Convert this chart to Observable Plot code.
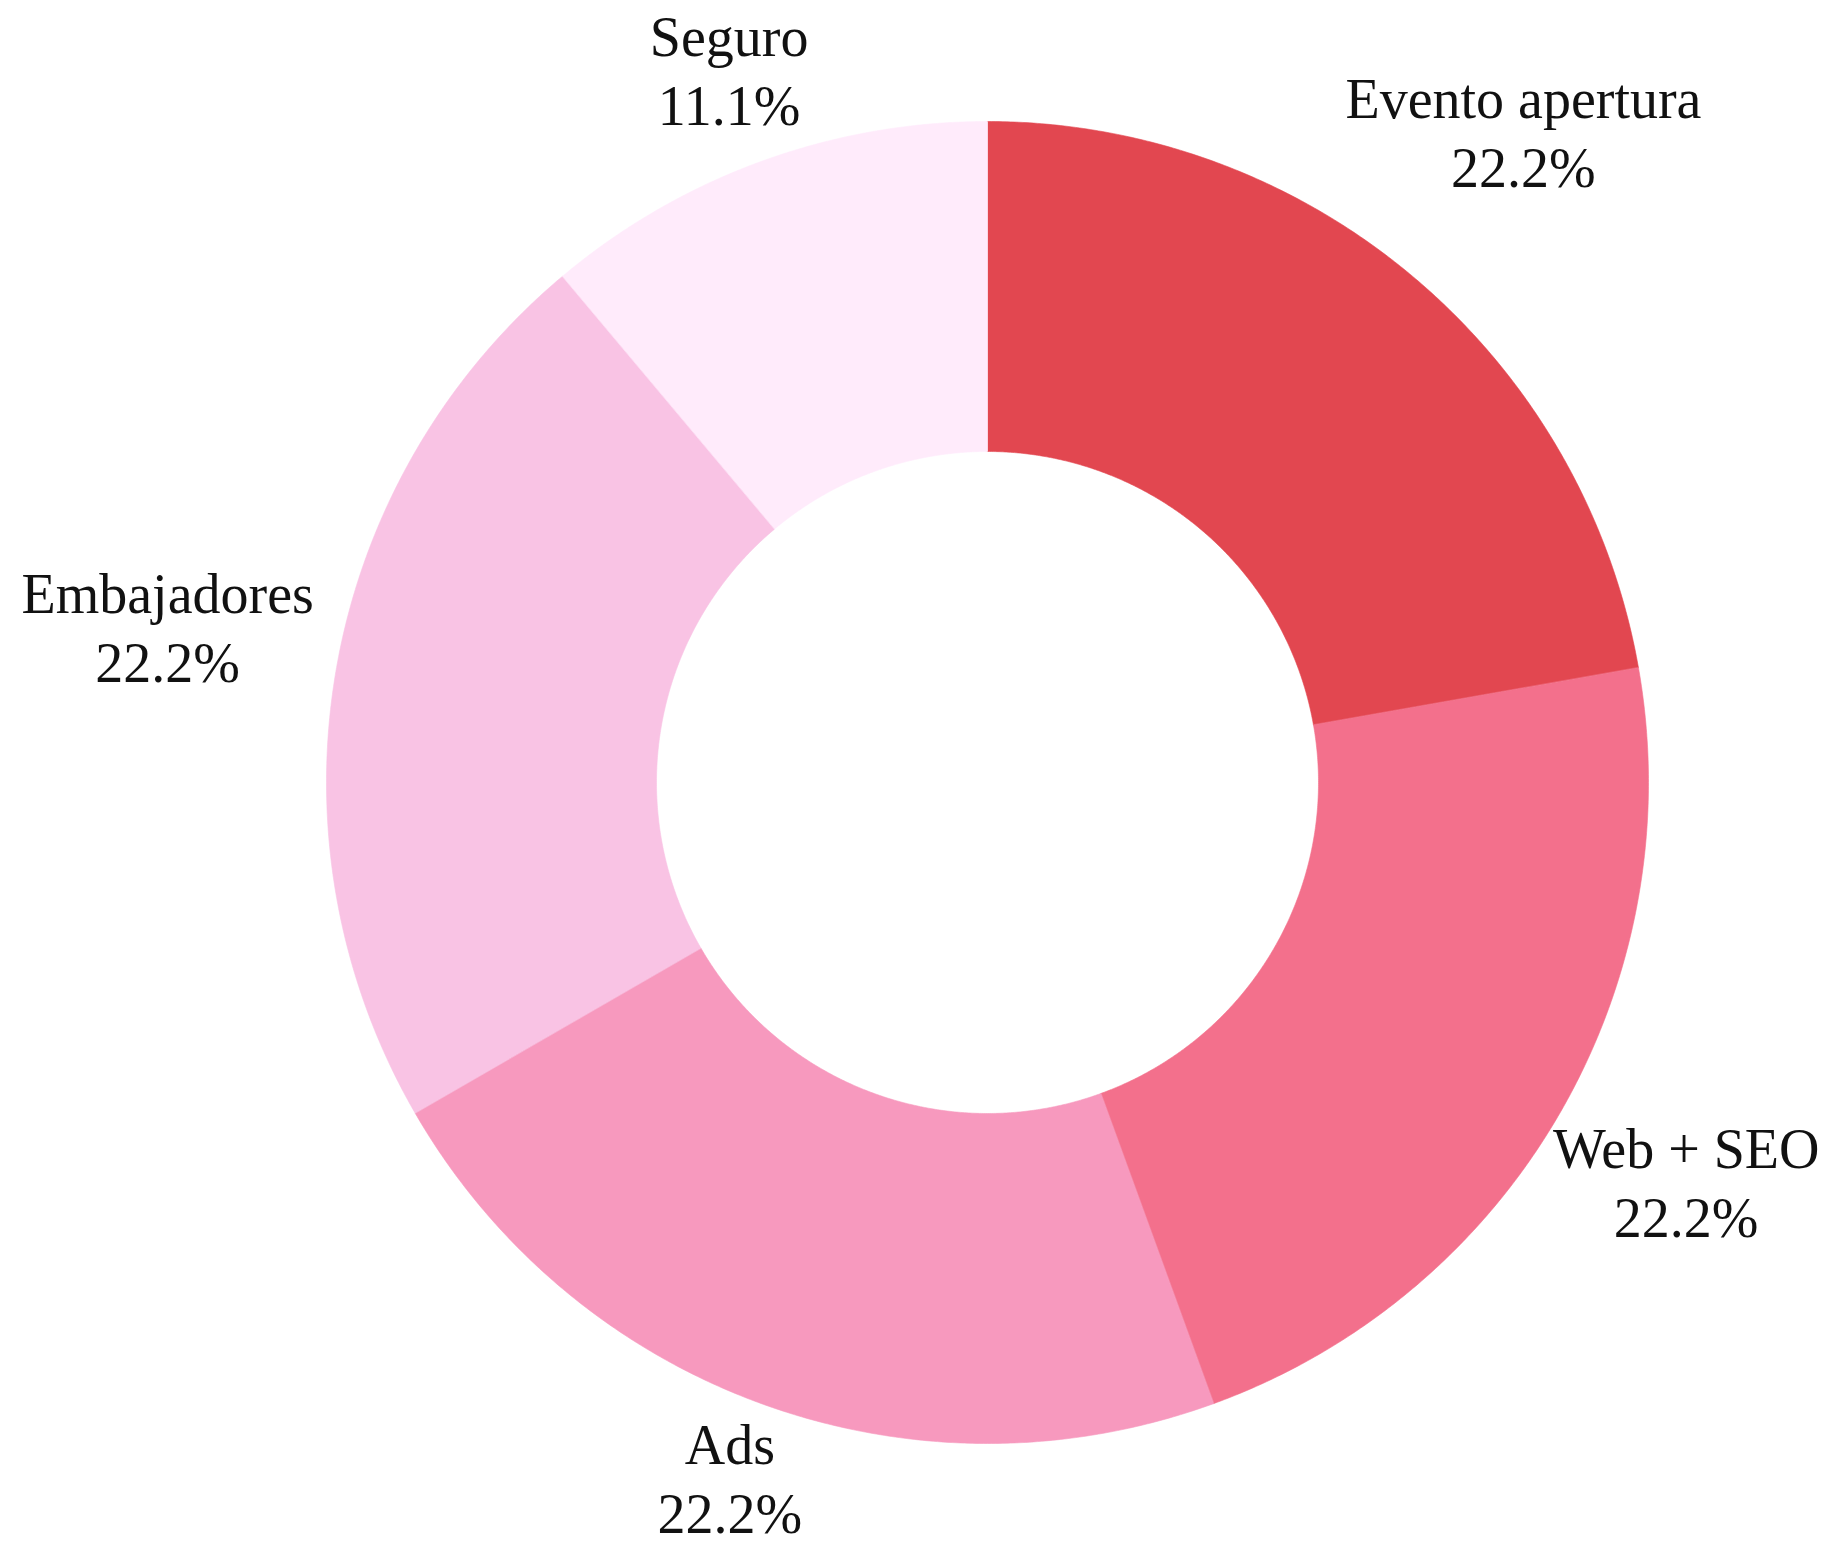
<!DOCTYPE html>
<html>
<head>
<meta charset="utf-8">
<script src="https://cdn.jsdelivr.net/npm/d3@7"></script>
<script src="https://cdn.jsdelivr.net/npm/@observablehq/plot@0.6"></script>
<style>
  html, body { margin: 0; padding: 0; background: #ffffff; }
  #chart svg { display: block; }
</style>
</head>
<body>
<div id="chart"></div>
<script>
// ---- data ----
const categories = ["Evento apertura", "Web + SEO", "Ads", "Embajadores", "Seguro"];
const values = [22.2, 22.2, 22.2, 22.2, 11.1];
const valueLabels = ["22.2%", "22.2%", "22.2%", "22.2%", "11.1%"];
const palette = ["#e24750", "#f3708c", "#f799be", "#f9c3e4", "#ffebfb"];

// ---- geometry ----
const W = 1821, H = 1544;
const cx = 987, cy = 782;          // pixel centre of the donut
const R = 661, r0 = 331;           // outer / inner radius in px
const fontSize = 56, lineHeight = 69 / 56;
const fontFamily = "'Liberation Serif', 'DejaVu Serif', serif";
const shiftUp = 13;                // baseline compensation for the label block

const total = d3.sum(values);
let acc = 0;
const slices = categories.map((c, i) => {
  const a0 = acc / total * 2 * Math.PI;
  acc += values[i];
  const a1 = acc / total * 2 * Math.PI;
  return {cat: c, a0, a1, label: valueLabels[i]};
});

// ring polygons (angles clockwise from top; data y points up)
const pts = [];
for (const s of slices) {
  const n = 240;
  for (let k = 0; k <= n; k++) {
    const a = s.a0 + (s.a1 - s.a0) * k / n;
    pts.push({cat: s.cat, x: R * Math.sin(a), y: R * Math.cos(a)});
  }
  for (let k = n; k >= 0; k--) {
    const a = s.a0 + (s.a1 - s.a0) * k / n;
    pts.push({cat: s.cat, x: r0 * Math.sin(a), y: r0 * Math.cos(a)});
  }
}

// label placement: box just outside the ring along the mid-angle, kept inside the frame
const ctx = document.createElement("canvas").getContext("2d");
ctx.font = `${fontSize}px ${fontFamily}`;
const labels = slices.map(s => {
  const a = (s.a0 + s.a1) / 2;
  const text = s.cat + "\n" + s.label;
  const hw = d3.max(text.split("\n"), t => ctx.measureText(t).width) / 2;
  const hh = 52, hhBox = 68;
  const d = 1.028 * R + hw * Math.abs(Math.sin(a)) + hh * Math.abs(Math.cos(a));
  let x = d * Math.sin(a), y = d * Math.cos(a);
  x = Math.max(-cx + hw + 2, Math.min(W - cx - hw - 2, x));
  // pixel centre = cy - y - shiftUp ; keep [centre - hhBox, centre + hhBox] inside [0, H]
  y = Math.min(cy - shiftUp - hhBox, Math.max(cy - shiftUp + hhBox - H, y));
  return {text, x, y};
});

const chart = Plot.plot({
  width: W,
  height: H,
  margin: 0,
  x: {axis: null, domain: [-cx, W - cx]},
  y: {axis: null, domain: [-(H - cy), cy]},
  color: {domain: categories, range: palette},
  style: {background: "#ffffff", fontFamily},
  marks: [
    Plot.line(pts, {
      x: "x", y: "y", z: "cat",
      fill: "cat", stroke: "cat", strokeWidth: 0.6,
      curve: "linear-closed"
    }),
    Plot.text(labels, {
      x: "x", y: "y", text: "text",
      fontSize, lineHeight, lineAnchor: "middle",
      textAnchor: "middle", fill: "#111111", dy: -shiftUp
    })
  ]
});
document.getElementById("chart").appendChild(chart);
</script>
</body>
</html>
